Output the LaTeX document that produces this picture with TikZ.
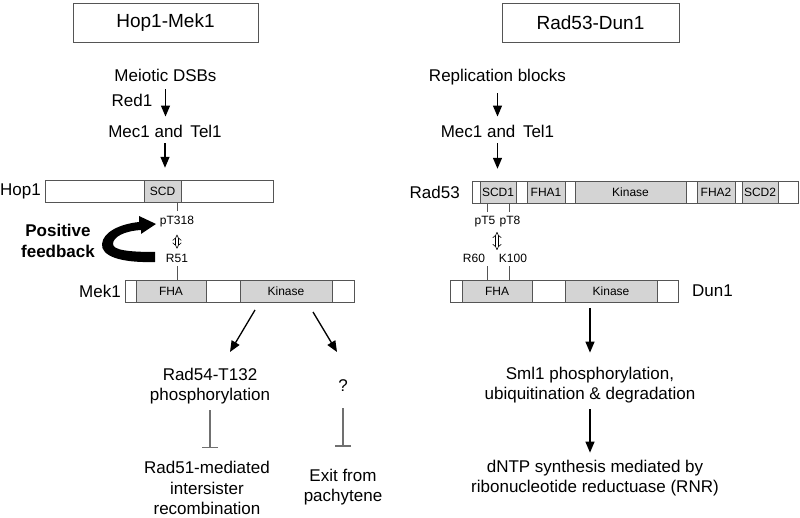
\documentclass[tikz,border=0pt]{standalone}
\usepackage{fontspec}
\setmainfont{Liberation Sans}
\usetikzlibrary{arrows.meta}
\definecolor{boxgray}{HTML}{555555}
\definecolor{domfill}{HTML}{D4D4D4}
\definecolor{inhgray}{HTML}{707070}
\newcommand{\bigfont}{\fontsize{17}{20.5}\selectfont}
\newcommand{\smallfont}{\fontsize{12}{14}\selectfont}
\newcommand{\titlefont}{\fontsize{19}{22}\selectfont}
\tikzset{x=1pt, y=-1pt,
titlebox/.style={ % header boxes
draw=boxgray, semithick,
minimum height=39pt, font=\titlefont},
txt/.style={font=\bigfont, align=center, inner sep=2pt},
protbar/.style={ % full protein
draw=boxgray, fill=white,
minimum height=22pt, inner sep=0pt},
dombox/.style={ % grey domains on a protein
draw=boxgray, fill=domfill,
minimum height=22pt, inner sep=0pt, font=\smallfont},
site/.style={font=\smallfont, inner sep=1pt},
flow/.style={draw, -{Triangle[length=11pt,width=9pt]}, line width=1.3pt},
inhibit/.style={draw=inhgray, -{Bar[width=16pt]}, line width=1.2pt},
tickline/.style={draw=boxgray, semithick},
bind/.style={double, double distance=2.6pt, {Implies}-{Implies}, semithick}}

\begin{document}
\begin{tikzpicture}
\useasboundingbox (0,0) rectangle (800,518);
% Hop1-Mek1
\node[titlebox, minimum width=185pt] (t1) at (165.5,22.5) {Hop1-Mek1};
\node[txt] (dsbs) at (165.5,75) {Meiotic DSBs};
\node[txt] (red1) at (132,100) {Red1};
\node[txt] (mec1) at (165,131) {Mec1 and\, Tel1};
\node[protbar, minimum width=228pt] (hbar) at (159,191) {};
\node[dombox, minimum width=37pt] (scd) at (162.5,191) {SCD};
\node[txt, anchor=east] (hop1) at (43,191) {Hop1};
\node[site] (pt318) at (177,222) {pT318};
\node[site] (r51) at (177,258) {R51};
\node[protbar, minimum width=229pt] (mbar) at (239.5,291) {};
\node[dombox, minimum width=70pt] (mfha) at (171,291) {FHA};
\node[dombox, minimum width=92pt] (mkin) at (286,291) {Kinase};
\node[txt, anchor=east] (mek1) at (123,291) {Mek1};
\node[txt, font=\bigfont\bfseries] (fb) at (58,241) {Positive\\feedback};
\node[txt] (rad54) at (210,386) {Rad54-T132\\phosphorylation};
\node[txt] (rad51) at (207,488) {Rad51-mediated\\intersister\\recombination};
\node[txt] (unk) at (343,386) {?};
\node[txt] (exit) at (343,487) {Exit from\\pachytene};
\coordinate (k1) at (255,310);
\coordinate (k2) at (230,352);
\coordinate (k3) at (313,312);
\coordinate (k4) at (337,352);

\draw[flow, shorten <=6pt, shorten >=6pt] (dsbs) -- (dsbs |- mec1.north);
\draw[flow, shorten <=4pt, shorten >=12pt] (mec1) -- (mec1 |- hbar.north);
\draw[tickline, shorten >=4pt] (pt318 |- hbar.south) -- (pt318.north);
\draw[bind, shorten <=6pt, shorten >=4pt] (pt318) -- (r51);
\draw[tickline, shorten <=3pt] (r51.south) -- (r51 |- mbar.north);
\draw[flow] (k1) -- (k2);
\draw[flow] (k3) -- (k4);
\draw[inhibit, shorten <=4pt, shorten >=11pt] (rad54.south) -- (rad54.south |- rad51.north);
\draw[inhibit, shorten <=14pt, shorten >=20pt] (unk.south) -- (unk.south |- exit.north);
% curved feedback arrow
\fill (155,262) .. controls (120,263) and (101,256) .. (102,244)
  .. controls (103,232) and (120,224) .. (139,222) -- (139,216) -- (156,224)
  -- (141,234) -- (141,230) .. controls (124,231) and (113,237) .. (113,244)
  .. controls (113,250) and (128,252) .. (155,252) -- cycle;

% Rad53-Dun1
\node[titlebox, minimum width=177pt] (t2) at (590.5,22.5) {Rad53-Dun1};
\node[txt] (repl) at (497.5,77) {Replication blocks};
\node[txt] (mec2) at (497.5,131) {Mec1 and\, Tel1};
\node[protbar, minimum width=326pt] (rbar) at (635,192) {};
\node[dombox, minimum width=36pt] (scd1) at (498,192) {SCD1};
\node[dombox, minimum width=38pt] (fha1) at (546,192) {FHA1};
\node[dombox, minimum width=111pt] (rkin) at (630.5,192) {Kinase};
\node[dombox, minimum width=38pt] (fha2) at (716,192) {FHA2};
\node[dombox, minimum width=36pt] (scd2) at (760,192) {SCD2};
\node[txt, anchor=east] (rad53) at (462,192) {Rad53};
\node[site] (pt5) at (485,222) {pT5};
\node[site] (pt8) at (510,222) {pT8};
\node[site] (r60) at (474,258) {R60};
\node[site] (k100) at (513,258) {K100};
\node[protbar, minimum width=228pt] (dbar) at (564,291) {};
\node[dombox, minimum width=70pt] (dfha) at (497,291) {FHA};
\node[dombox, minimum width=92pt] (dkin) at (611,291) {Kinase};
\node[txt, anchor=west] (dun1) at (690,291) {Dun1};
\node[txt] (sml1) at (590,385) {Sml1 phosphorylation,\\ubiquitination \& degradation};
\node[txt] (dntp) at (595,478) {dNTP synthesis mediated by\\ribonucleotide reductuase (RNR)};
\coordinate (bnd1) at (497,228);
\coordinate (bnd2) at (497,254);
\coordinate (site1) at (487,0);
\coordinate (site2) at (509,0);

\draw[flow, shorten <=6pt, shorten >=6pt] (repl.south -| mec2) -- (mec2.north);
\draw[flow, shorten <=4pt, shorten >=12pt] (mec2) -- (mec2 |- rbar.north);
\draw[tickline, shorten >=3pt] (site1 |- rbar.south) -- (site1 |- pt5.north);
\draw[tickline, shorten >=3pt] (site2 |- rbar.south) -- (site2 |- pt8.north);
\draw[bind, shorten <=4pt, shorten >=4pt] (bnd1) -- (bnd2);
\draw[tickline, shorten <=3pt] (site1 |- r60.south) -- (site1 |- dbar.north);
\draw[tickline, shorten <=3pt] (site2 |- k100.south) -- (site2 |- dbar.north);
\draw[flow, shorten <=6pt, shorten >=12pt] (sml1 |- dbar.south) -- (sml1.north);
\draw[flow, shorten <=4pt, shorten >=5pt] (sml1.south) -- (sml1.south |- dntp.north);
\end{tikzpicture}
\end{document}
